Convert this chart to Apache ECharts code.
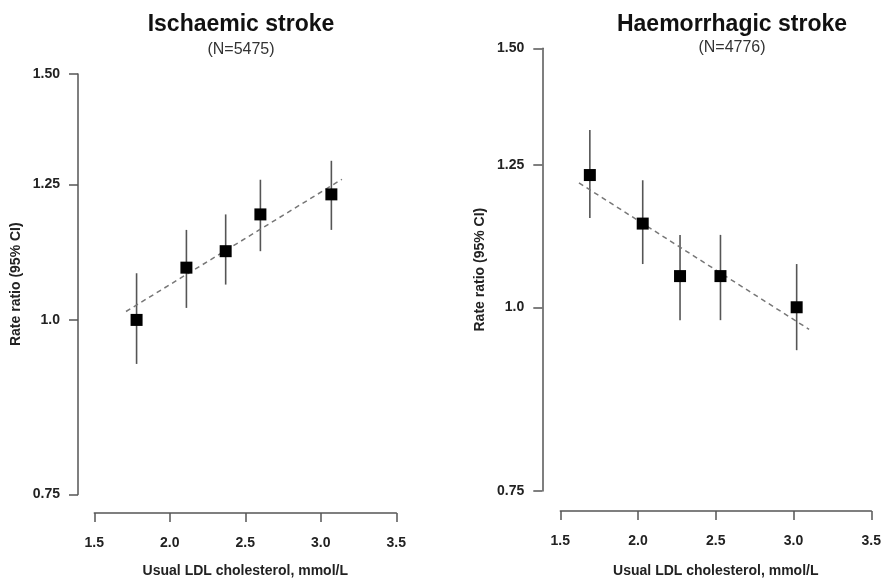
<!DOCTYPE html>
<html>
<head>
<meta charset="utf-8">
<script src="https://cdn.jsdelivr.net/npm/echarts@6/dist/echarts.min.js"></script>
<style>html,body{margin:0;padding:0;background:#fff}#c{width:886px;height:583px}</style>
</head>
<body>
<div id="c"></div>
<script>
// ---- data ----
const yTicks = [0.75, 1.0, 1.25, 1.5];
const xTicks = [1.5, 2.0, 2.5, 3.0, 3.5];

const iscX   = [1.78, 2.11, 2.37, 2.60, 3.07];
const iscRR  = [1.00, 1.09, 1.12, 1.19, 1.23];
const iscLo  = [0.93, 1.02, 1.06, 1.12, 1.16];
const iscHi  = [1.08, 1.16, 1.19, 1.26, 1.30];
const iscTrendX = [1.71, 3.14];
const iscTrendY = [1.014, 1.261];

const hemX   = [1.69, 2.03, 2.27, 2.53, 3.02];
const hemRR  = [1.23, 1.14, 1.05, 1.05, 1.00];
const hemLo  = [1.15, 1.07, 0.98, 0.98, 0.935];
const hemHi  = [1.32, 1.22, 1.12, 1.12, 1.07];
const hemTrendX = [1.62, 3.10];
const hemTrendY = [1.215, 0.966];

const titles = ['Ischaemic stroke', 'Haemorrhagic stroke'];
const subtitles = ['(N=5475)', '(N=4776)'];
const xName = 'Usual LDL cholesterol, mmol/L';
const yName = 'Rate ratio (95% CI)';

// ---- chart ----
const FONT = 'Liberation Sans, Arial, sans-serif';
const AX = '#555';
const fmtY = v => (Math.abs(v - 1) < 1e-9 ? '1.0' : v.toFixed(2));

function zip(a, b) { return a.map((v, i) => [v, b[i]]); }

function xAxisCfg(idx, offset, nameGap) {
  return {
    type: 'value', gridIndex: idx, min: 1.5, max: 3.5, interval: 0.5,
    offset: offset,
    name: xName, nameLocation: 'middle', nameGap: nameGap,
    nameTextStyle: { fontFamily: FONT, fontWeight: 'bold', fontSize: 14, color: '#222' },
    axisLine: { show: true, lineStyle: { color: AX, width: 1.5 } },
    axisTick: { show: true, length: 9, lineStyle: { color: AX, width: 1.5 }, customValues: xTicks },
    axisLabel: { margin: 23, fontFamily: FONT, fontWeight: 'bold', fontSize: 14, color: '#222',
                 customValues: xTicks, formatter: v => v.toFixed(1) },
    splitLine: { show: false }
  };
}
function yAxisCfg(idx, offset) {
  return {
    type: 'log', gridIndex: idx, min: 0.75, max: 1.5,
    offset: offset,
    name: yName, nameLocation: 'middle', nameGap: 55, nameRotate: 90,
    nameTextStyle: { fontFamily: FONT, fontWeight: 'bold', fontSize: 14, color: '#222' },
    axisLine: { show: true, lineStyle: { color: AX, width: 1.5 } },
    axisTick: { show: true, length: 9, lineStyle: { color: AX, width: 1.5 }, customValues: yTicks },
    axisLabel: { margin: 18, fontFamily: FONT, fontWeight: 'bold', fontSize: 14, color: '#222',
                 customValues: yTicks, formatter: fmtY },
    splitLine: { show: false }, minorTick: { show: false }
  };
}

function errSeries(idx, xs, lo, hi) {
  return {
    type: 'custom', xAxisIndex: idx, yAxisIndex: idx, z: 2,
    data: xs.map((x, i) => [x, lo[i], hi[i]]),
    renderItem: (params, api) => {
      const a = api.coord([api.value(0), api.value(1)]);
      const b = api.coord([api.value(0), api.value(2)]);
      return { type: 'line', shape: { x1: a[0], y1: a[1], x2: b[0], y2: b[1] },
               style: { stroke: '#555', lineWidth: 1.6 } };
    }
  };
}
function ptSeries(idx, xs, ys) {
  return { type: 'scatter', xAxisIndex: idx, yAxisIndex: idx, z: 4,
           symbol: 'rect', symbolSize: 12, itemStyle: { color: '#000', opacity: 1 },
           data: zip(xs, ys) };
}
function trendSeries(idx, xs, ys) {
  return { type: 'line', xAxisIndex: idx, yAxisIndex: idx, z: 3, symbol: 'none',
           lineStyle: { color: '#777', width: 1.5, type: [5, 4] },
           data: zip(xs, ys) };
}

const chart = echarts.init(document.getElementById('c'), null, { renderer: 'canvas' });
chart.setOption({
  animation: false,
  backgroundColor: '#fff',
  title: [
    { text: titles[0], left: 236, top: 8, textAlign: 'center',
      textStyle: { fontFamily: FONT, fontWeight: 'bold', fontSize: 23, color: '#111' } },
    { text: subtitles[0], left: 236, top: 37, textAlign: 'center',
      textStyle: { fontFamily: FONT, fontWeight: 'normal', fontSize: 16, color: '#333' } },
    { text: titles[1], left: 727, top: 8, textAlign: 'center',
      textStyle: { fontFamily: FONT, fontWeight: 'bold', fontSize: 23, color: '#111' } },
    { text: subtitles[1], left: 727, top: 35, textAlign: 'center',
      textStyle: { fontFamily: FONT, fontWeight: 'normal', fontSize: 16, color: '#333' } }
  ],
  grid: [
    { left: 94.3, right: 489.7, top: 74, bottom: 82.3 },
    { left: 560.3, right: 14.7, top: 48.3, bottom: 90.3 }
  ],
  xAxis: [ xAxisCfg(0, 18.6, 51), xAxisCfg(1, 20, 53) ],
  yAxis: [ yAxisCfg(0, 16.3), yAxisCfg(1, 18) ],
  series: [
    errSeries(0, iscX, iscLo, iscHi), trendSeries(0, iscTrendX, iscTrendY), ptSeries(0, iscX, iscRR),
    errSeries(1, hemX, hemLo, hemHi), trendSeries(1, hemTrendX, hemTrendY), ptSeries(1, hemX, hemRR)
  ]
});
</script>
</body>
</html>
